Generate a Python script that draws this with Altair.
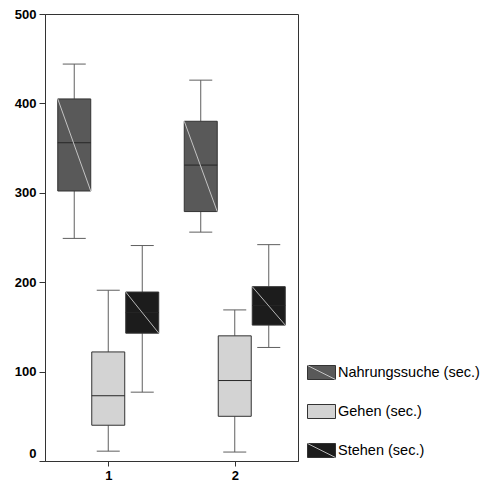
import altair as alt
import pandas as pd

# ---- data ----
groups = [1, 2]
series = ["Nahrungssuche (sec.)", "Gehen (sec.)", "Stehen (sec.)"]

# per series, values for group 1 and group 2
lo_vals = {
    "Nahrungssuche (sec.)": [249, 256],
    "Gehen (sec.)": [11, 10],
    "Stehen (sec.)": [77, 127],
}
q1_vals = {
    "Nahrungssuche (sec.)": [302, 279],
    "Gehen (sec.)": [40, 50],
    "Stehen (sec.)": [143, 152],
}
med_vals = {
    "Nahrungssuche (sec.)": [356, 331],
    "Gehen (sec.)": [73, 90],
    "Stehen (sec.)": [166, 174],
}
q3_vals = {
    "Nahrungssuche (sec.)": [405, 380],
    "Gehen (sec.)": [122, 140],
    "Stehen (sec.)": [189, 195],
}
hi_vals = {
    "Nahrungssuche (sec.)": [444, 426],
    "Gehen (sec.)": [191, 169],
    "Stehen (sec.)": [241, 242],
}

fill_colors = ["#595959", "#d3d3d3", "#1c1c1c"]
diag_colors = ["#c4c4c4", "transparent", "#b8b8b8"]

rows = []
for si, s in enumerate(series):
    for gi, g in enumerate(groups):
        rows.append({
            "group": g, "series": s, "series_d": s, "sidx": si,
            "lo": lo_vals[s][gi], "q1": q1_vals[s][gi], "med": med_vals[s][gi],
            "q3": q3_vals[s][gi], "hi": hi_vals[s][gi],
        })
df = pd.DataFrame(rows)

FONT = "Liberation Sans"
W, H = 253, 447

base = alt.Chart(df).transform_calculate(
    pos="datum.group + (datum.sidx - 1) * 0.2688",
    left="datum.group + (datum.sidx - 1) * 0.2688 - 0.1304",
    right="datum.group + (datum.sidx - 1) * 0.2688 + 0.1304",
    capl="datum.group + (datum.sidx - 1) * 0.2688 - 0.091",
    capr="datum.group + (datum.sidx - 1) * 0.2688 + 0.091",
)

xscale = alt.Scale(domain=[0.5, 2.5], nice=False, zero=False)
yscale = alt.Scale(domain=[0, 500], nice=False)

xaxis = alt.Axis(values=groups, format="d", title=None, grid=False,
                 tickSize=5, labelPadding=3, labelFont=FONT, labelFontSize=13,
                 labelFontWeight="bold", labelColor="#000", domainColor="#333",
                 tickColor="#333", labelAngle=0)
yaxis = alt.Axis(values=[0, 100, 200, 300, 400, 500], title=None, grid=False,
                 tickSize=6, labelPadding=3, labelFont=FONT, labelFontSize=13,
                 labelFontWeight="bold", labelColor="#000", domainColor="#333",
                 tickColor="#333",
                 labelOffset={"condition": {"test": "datum.value === 0", "value": -8}, "value": 0})

X = alt.X("pos:Q", scale=xscale, axis=xaxis)

whisk_color = "#5f5f5f"

w_low = base.mark_rule(color=whisk_color, strokeWidth=1).encode(
    x=X, y=alt.Y("lo:Q", scale=yscale, axis=yaxis), y2="q1:Q")
w_high = base.mark_rule(color=whisk_color, strokeWidth=1).encode(
    x=X, y=alt.Y("q3:Q", scale=yscale, axis=yaxis), y2="hi:Q")
cap_low = base.mark_rule(color=whisk_color, strokeWidth=1).encode(
    x=alt.X("capl:Q", scale=xscale, axis=xaxis), x2="capr:Q",
    y=alt.Y("lo:Q", scale=yscale, axis=yaxis))
cap_high = base.mark_rule(color=whisk_color, strokeWidth=1).encode(
    x=alt.X("capl:Q", scale=xscale, axis=xaxis), x2="capr:Q",
    y=alt.Y("hi:Q", scale=yscale, axis=yaxis))

LEG_X, LEG_Y = 262, 344
SYM = "M-1,-0.5H1V0.5H-1Z"
DIAG = "M-1,-0.5L1,0.5"
SYM_SIZE = 784
ROW_PAD = 15
LEG_FS = 14.5

boxes = base.mark_rect(stroke="#333", strokeWidth=1).encode(
    x=alt.X("left:Q", scale=xscale, axis=xaxis), x2="right:Q",
    y=alt.Y("q1:Q", scale=yscale, axis=yaxis), y2="q3:Q",
    fill=alt.Fill("series:N", scale=alt.Scale(domain=series, range=fill_colors),
                  legend=alt.Legend(title=None, orient="none", legendX=LEG_X, legendY=LEG_Y,
                                    symbolType=SYM, symbolSize=SYM_SIZE,
                                    symbolStrokeColor="#333", symbolStrokeWidth=1,
                                    labelFont=FONT, labelFontSize=LEG_FS, labelColor="#000",
                                    rowPadding=ROW_PAD, labelOffset=2, labelLimit=200)),
)

medians = base.mark_rule(color="#262626", strokeWidth=1).encode(
    x=alt.X("left:Q", scale=xscale, axis=xaxis), x2="right:Q",
    y=alt.Y("med:Q", scale=yscale, axis=yaxis))

diags = base.mark_rule(strokeWidth=1).encode(
    x=alt.X("left:Q", scale=xscale, axis=xaxis), x2="right:Q",
    y=alt.Y("q3:Q", scale=yscale, axis=yaxis), y2="q1:Q",
    stroke=alt.Stroke("series_d:N", scale=alt.Scale(domain=series, range=diag_colors),
                      legend=alt.Legend(title=None, orient="none", legendX=LEG_X, legendY=LEG_Y,
                                        symbolType=DIAG, symbolSize=SYM_SIZE,
                                        symbolStrokeWidth=1, symbolFillColor="transparent",
                                        labelFont=FONT, labelFontSize=LEG_FS, labelColor="transparent",
                                        rowPadding=ROW_PAD, labelOffset=2, labelLimit=200)),
)

chart = alt.layer(w_low, w_high, cap_low, cap_high, boxes, medians, diags).resolve_scale(
    fill="independent", stroke="independent"
).properties(
    width=W, height=H,
    autosize=alt.AutoSizeParams(type="none"),
    padding={"left": 45, "top": 14, "right": 186, "bottom": 21},
    background="white",
).configure_view(stroke="#333", strokeWidth=1)

chart.save("out.html", embed_options={"renderer": "svg", "actions": False})
